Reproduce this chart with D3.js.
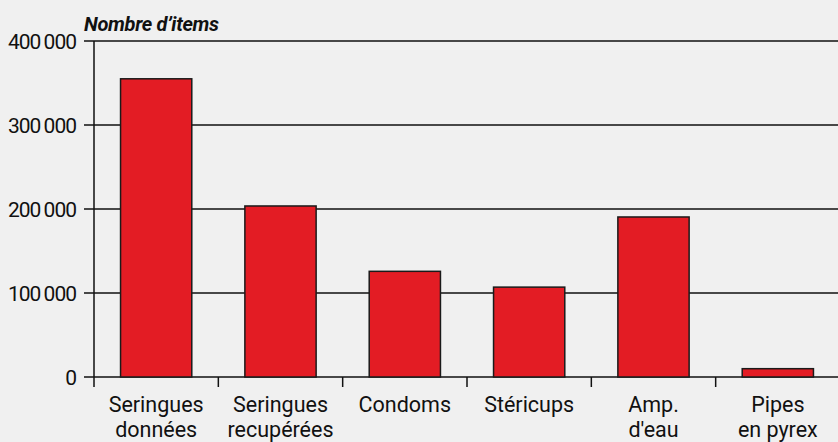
<!DOCTYPE html>
<html><head><meta charset="utf-8">
<script src="https://cdn.jsdelivr.net/npm/d3@7"></script>
<style>
html,body{margin:0;padding:0;background:#f0f0f0;overflow:hidden;}
svg{display:block;font-family:"Roboto","Liberation Sans",sans-serif;}
</style></head><body>
<svg id="c" width="838" height="442"></svg>
<script>
const categories = [["Seringues","données"],["Seringues","recupérées"],["Condoms"],["Stéricups"],["Amp.","d'eau"],["Pipes","en pyrex"]];
const values = [355000, 203600, 125800, 107000, 190500, 9900];
const yTicks = [0, 100000, 200000, 300000, 400000];
const yTickLabels = ["0","100\u2009000","200\u2009000","300\u2009000","400\u2009000"];
const yTitle = "Nombre d’items";

const svg = d3.select("#c");
const keys = categories.map((c,i)=>String(i));
const x = d3.scaleBand().domain(keys).range([94, 840]).padding(0);
const y = d3.scaleLinear().domain([0, 400000]).range([377, 41]);

// gridlines
svg.append("g").selectAll("line").data(yTicks).join("line")
  .attr("x1", 84).attr("x2", 838)
  .attr("y1", d=>y(d)).attr("y2", d=>y(d))
  .attr("stroke", "#111").attr("stroke-width", 1.5);

// y tick labels
svg.append("g").selectAll("text").data(yTicks).join("text")
  .attr("x", 76).attr("y", d=>y(d)).attr("dy","0.36em")
  .attr("text-anchor","end").attr("font-size", 21).attr("fill","#111")
  .attr("letter-spacing","-1")
  .text((d,i)=>yTickLabels[i]);

// bars
const bw = x.bandwidth()*0.573;
svg.append("g").selectAll("rect").data(values).join("rect")
  .attr("x", (d,i)=>x(keys[i]) + (x.bandwidth()-bw)/2)
  .attr("width", bw)
  .attr("y", d=>y(d))
  .attr("height", d=>y(0)-y(d))
  .attr("fill", "#e31c24")
  .attr("stroke", "#1a1a1a").attr("stroke-width", 1.5);

// y axis line
svg.append("line").attr("x1",94).attr("x2",94).attr("y1",y(400000)).attr("y2",387)
  .attr("stroke","#111").attr("stroke-width",1.5);

// category boundary ticks
svg.append("g").selectAll("line").data(keys.slice(1)).join("line")
  .attr("x1", d=>x(d)).attr("x2", d=>x(d))
  .attr("y1", 377).attr("y2", 387)
  .attr("stroke","#111").attr("stroke-width",1.5);

// x labels
const lab = svg.append("g").selectAll("text").data(categories).join("text")
  .attr("x", (d,i)=>x(keys[i]) + x.bandwidth()/2)
  .attr("y", 412).attr("text-anchor","middle")
  .attr("font-size", 21.5).attr("fill","#111");
lab.selectAll("tspan").data(d=>d).join("tspan")
  .attr("x", function(){return this.parentNode.getAttribute("x");})
  .attr("dy", (d,i)=>i===0?0:25)
  .text(d=>d);

// title
svg.append("text").attr("x", 84).attr("y", 31)
  .attr("font-size", 20).attr("font-weight","bold").attr("font-style","italic")
  .attr("fill","#111").attr("letter-spacing","-0.3").text(yTitle);
</script>
</body></html>
